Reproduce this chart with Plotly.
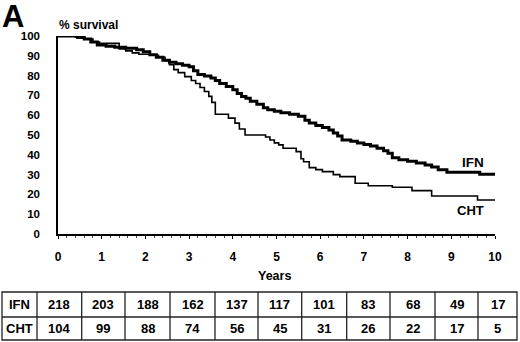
import plotly.graph_objects as go

# ---- data ----
ifn_t = [0, 0.45, 0.6, 0.75, 0.9, 1.1, 1.3, 1.55, 1.8, 1.95, 2.1, 2.25, 2.4, 2.55, 2.7, 2.85,
         3.0, 3.1, 3.2, 3.35, 3.5, 3.6, 3.7, 3.85, 4.0, 4.1, 4.2, 4.3, 4.4, 4.55, 4.7, 4.8, 4.95,
         5.1, 5.3, 5.5, 5.65, 5.75, 5.9, 6.05, 6.2, 6.3, 6.4, 6.5, 6.7, 6.85, 7.0, 7.15, 7.3,
         7.45, 7.55, 7.65, 7.8, 8.0, 8.2, 8.4, 8.55, 8.7, 8.9, 9.65, 10]
ifn_s = [100, 99.3, 98.5, 97, 95.5, 94.8, 94.3, 93.8, 93, 92, 90.5, 89.3, 87.8, 86.8, 86, 85.2,
         84.5, 82.5, 80.5, 79.8, 78.8, 77.5, 76, 74.5, 72.8, 71, 69.5, 68.5, 67, 65.5, 63.8, 62.8, 62,
         61.3, 60.5, 59.5, 57.5, 56, 54.8, 53.8, 52.5, 51, 49.5, 47.5, 46.8, 46, 45.2, 44.5, 43.3,
         42, 40.8, 38.5, 37.5, 36.8, 35.8, 34.8, 33.8, 32.5, 31.2, 30.2, 30.2]

cht_t = [0, 0.4, 0.6, 0.8, 0.95, 1.4, 1.55, 1.7, 1.85, 2.1, 2.3, 2.45, 2.55, 2.65, 2.75, 2.9,
         3.05, 3.15, 3.25, 3.35, 3.45, 3.52, 3.6, 3.9, 4.05, 4.15, 4.28, 4.75, 4.85, 4.95, 5.05,
         5.15, 5.45, 5.56, 5.62, 5.75, 5.9, 6.05, 6.3, 6.45, 6.8, 7.1, 7.65, 8.1, 8.55, 9.6, 10]
cht_s = [100, 99.5, 98.5, 97, 96.3, 93.5, 92.5, 91.5, 90.8, 90.3, 89.3, 87.5, 85.5, 83, 81.5, 79.5,
         77.5, 76, 74, 72, 69.5, 66.5, 60.5, 58.5, 56, 53, 50, 49, 47.5, 46, 45,
         43.3, 41.6, 38, 36.5, 33.5, 32.5, 31.5, 30, 29, 25.6, 24.4, 23.6, 21.9, 19.2, 17.2, 17.2]

years = list(range(0, 11))
ifn_risk = [218, 203, 188, 162, 137, 117, 101, 83, 68, 49, 17]
cht_risk = [104, 99, 88, 74, 56, 45, 31, 26, 22, 17, 5]
row_labels = ["IFN", "CHT"]

# ---- layout geometry (pixels) ----
W, H = 520, 342
L, R, T, B = 58, 495, 36, 234


def px_x(p):
    return (p - L) / (R - L)


def px_y(p):
    return (B - p) / (B - T)


FONT = "Liberation Sans, Arial, sans-serif"

fig = go.Figure()
fig.add_trace(go.Scatter(x=cht_t, y=cht_s, mode="lines", line=dict(color="black", width=1.6, shape="hv"),
                         cliponaxis=False, showlegend=False, hoverinfo="skip"))
fig.add_trace(go.Scatter(x=ifn_t, y=ifn_s, mode="lines", line=dict(color="black", width=3, shape="hv"),
                         cliponaxis=False, showlegend=False, hoverinfo="skip"))


def bold(size):
    return dict(family=FONT, size=size, color="black", weight="bold")


annotations = [
    dict(text="A", x=px_x(0), y=px_y(-3), xref="paper", yref="paper", xanchor="left", yanchor="top",
         showarrow=False, font=bold(31)),
    dict(text="% survival", x=px_x(57), y=px_y(25), xref="paper", yref="paper", xanchor="left",
         yanchor="middle", showarrow=False, font=bold(12)),
    dict(text="Years", x=px_x(274), y=px_y(276), xref="paper", yref="paper", xanchor="center",
         yanchor="middle", showarrow=False, font=bold(12.5)),
    dict(text="IFN", x=9.8, y=36, xref="x", yref="y", xanchor="right", yanchor="middle",
         showarrow=False, font=bold(13.5)),
    dict(text="CHT", x=9.8, y=12, xref="x", yref="y", xanchor="right", yanchor="middle",
         showarrow=False, font=bold(13)),
]

# table
tbl_top, tbl_mid, tbl_bot = 292, 317, 340
tbl_left, tbl_right, lab_right = 2, 517, 37
col_bounds = [81.7, 125, 170, 215, 258, 301.7, 346.7, 390, 435, 478]
row_centers = [(tbl_top + tbl_mid) / 2, (tbl_mid + tbl_bot) / 2]
data_edges = [lab_right] + col_bounds + [tbl_right]

for r, (lab, vals) in enumerate(zip(row_labels, [ifn_risk, cht_risk])):
    yc = px_y(row_centers[r])
    annotations.append(dict(text=lab, x=px_x((tbl_left + lab_right) / 2), y=yc, xref="paper", yref="paper",
                            xanchor="center", yanchor="middle", showarrow=False, font=bold(13)))
    for i, v in enumerate(vals):
        xc = (data_edges[i] + data_edges[i + 1]) / 2
        annotations.append(dict(text=str(v), x=px_x(xc), y=yc, xref="paper", yref="paper",
                                xanchor="center", yanchor="middle", showarrow=False, font=bold(13)))

shapes = [dict(type="rect", xref="paper", yref="paper", x0=px_x(tbl_left), x1=px_x(tbl_right),
               y0=px_y(tbl_top), y1=px_y(tbl_bot), line=dict(color="#222", width=1.3)),
          dict(type="line", xref="paper", yref="paper", x0=px_x(tbl_left), x1=px_x(tbl_right),
               y0=px_y(tbl_mid), y1=px_y(tbl_mid), line=dict(color="#222", width=1.3))]
for xb in [lab_right] + col_bounds:
    shapes.append(dict(type="line", xref="paper", yref="paper", x0=px_x(xb), x1=px_x(xb),
                       y0=px_y(tbl_top), y1=px_y(tbl_bot), line=dict(color="#222", width=1.3)))

fig.update_layout(
    width=W, height=H,
    margin=dict(l=L, r=W - R, t=T, b=H - B, pad=0),
    paper_bgcolor="white", plot_bgcolor="white",
    font=dict(family=FONT, color="black"),
    annotations=annotations, shapes=shapes,
    xaxis=dict(range=[0, 10], tickmode="array", tickvals=years, ticktext=[str(y) for y in years],
               showgrid=False, zeroline=False, showline=True, linecolor="black", linewidth=1.5,
               ticks="outside", ticklen=3, tickcolor="black", ticklabelstandoff=8,
               minor=dict(dtick=0.2, ticks="outside", ticklen=2, tickcolor="#444"),
               tickfont=bold(12), fixedrange=True),
    yaxis=dict(range=[0, 100], dtick=10, showgrid=False, zeroline=False, showline=True,
               linecolor="black", linewidth=1.5, ticks="", ticklabelstandoff=14,
               tickfont=bold(11.5), fixedrange=True),
)

fig.write_html("out.html", config={"displayModeBar": False},
               post_script="document.body.style.margin='0';document.body.style.overflow='hidden';")
